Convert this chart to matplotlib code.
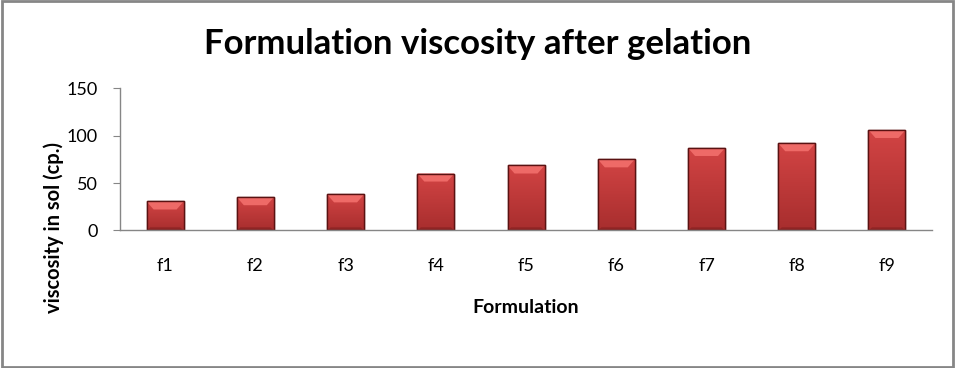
import numpy as np
import matplotlib.pyplot as plt
from matplotlib.patches import Rectangle, Polygon
from matplotlib.colors import LinearSegmentedColormap

# --- data ---
formulations = ["f1", "f2", "f3", "f4", "f5", "f6", "f7", "f8", "f9"]
viscosity = [30.5, 35, 38, 60, 68.5, 75, 87, 92, 106]

plt.rcParams['font.family'] = ['Lato', 'DejaVu Sans']

fig = plt.figure(figsize=(9.56, 3.68), dpi=100)
ax = fig.add_axes([0.1255, 0.374, 0.8495, 0.386])

ymax = 150
ax.set_xlim(-0.5, len(formulations) - 0.5)
ax.set_ylim(0, ymax)

# bevel sizes in pixels -> data units
px_per_unit = 0.386 * 368 / ymax
px_per_x = 0.8495 * 956 / len(formulations)
top_h, bot_h, inset = 8 / px_per_unit, 3 / px_per_unit, 7 / px_per_x

w = 0.41
grad = np.linspace(0, 1, 64).reshape(-1, 1)
cmap = LinearSegmentedColormap.from_list("bar", ["#A82E2E", "#D24444"])

for i, v in enumerate(viscosity):
    x0, x1 = i - w / 2, i + w / 2
    body = Rectangle((x0, 0), w, v, facecolor='#C63B3B', edgecolor='#5A1212',
                     linewidth=1.0, zorder=3)
    ax.add_patch(body)
    im = ax.imshow(grad, extent=(x0, x1, 0, v), origin='lower', cmap=cmap,
                   aspect='auto', zorder=3.5)
    im.set_clip_path(body)
    # light top bevel
    ax.add_patch(Polygon([(x0, v), (x1, v), (x1 - inset, v - top_h), (x0 + inset, v - top_h)],
                         closed=True, facecolor='#EE6A67', edgecolor='none', zorder=4))
    # darker bottom bevel
    ax.add_patch(Polygon([(x0, 0), (x1, 0), (x1 - inset / 2, bot_h), (x0 + inset / 2, bot_h)],
                         closed=True, facecolor='#8E2424', edgecolor='none', zorder=4))
    # redraw outline on top
    ax.add_patch(Rectangle((x0, 0), w, v, fill=False, edgecolor='#5A1212',
                           linewidth=1.0, zorder=5))

ax.set_xlim(-0.5, len(formulations) - 0.5)
ax.set_ylim(0, ymax)
ax.set_yticks([0, 50, 100, 150])
ax.set_xticks(range(len(formulations)))
ax.set_xticklabels(formulations)

for s in ['top', 'right']:
    ax.spines[s].set_visible(False)
for s in ['left', 'bottom']:
    ax.spines[s].set_color('#868686')
    ax.spines[s].set_linewidth(1.0)
    ax.spines[s].set_zorder(6)

ax.tick_params(axis='y', length=5, color='#868686', labelsize=13, pad=11)
ax.tick_params(axis='x', length=0, labelsize=13, pad=20)

fig.text(0.5, 1 - 44 / 368, "Formulation viscosity after gelation", fontsize=25,
         fontweight='bold', ha='center', va='center')
ax.set_xlabel("Formulation", fontsize=14, fontweight='bold', va='center')
ax.xaxis.set_label_coords(0.5, -0.54)
ax.set_ylabel("viscosity in sol (cp.)", fontsize=14.5, fontweight='bold', va='center')
ax.yaxis.set_label_coords(-0.0813, 0.023)

# outer chart border
fig.patches.append(Rectangle((0.002, 0.003), 0.995, 0.993, transform=fig.transFigure,
                             fill=False, edgecolor='#868686', linewidth=2))

fig.savefig("out.png", dpi=100)
